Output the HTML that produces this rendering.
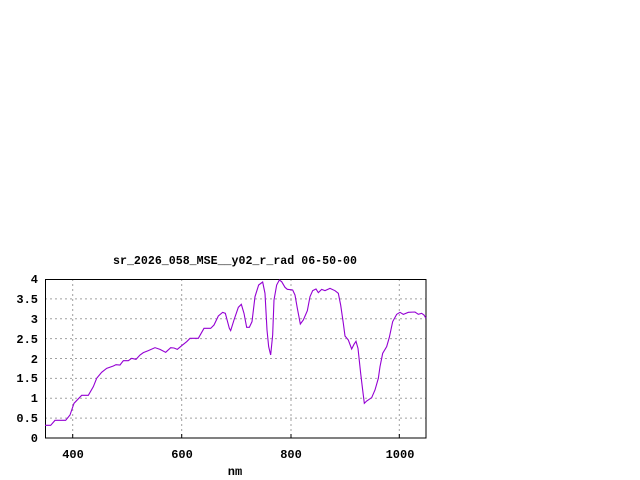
<!DOCTYPE html>
<html><head><meta charset="utf-8"><style>body{margin:0;background:#fff}svg{display:block}text{font-family:"Liberation Mono",monospace;font-size:12px;font-weight:bold;fill:#000}</style></head>
<body><svg width="640" height="480" viewBox="0 0 640 480">
<rect width="640" height="480" fill="#fff"/>
<g stroke="#a0a0a0" stroke-width="1" stroke-dasharray="2,3">
<line x1="72.7" y1="279" x2="72.7" y2="438"/><line x1="181.7" y1="279" x2="181.7" y2="438"/><line x1="291" y1="279" x2="291" y2="438"/><line x1="399.3" y1="279" x2="399.3" y2="438"/>
<line x1="45" y1="418.1" x2="426" y2="418.1"/><line x1="45" y1="398.2" x2="426" y2="398.2"/><line x1="45" y1="378.4" x2="426" y2="378.4"/><line x1="45" y1="358.5" x2="426" y2="358.5"/><line x1="45" y1="338.6" x2="426" y2="338.6"/><line x1="45" y1="318.8" x2="426" y2="318.8"/><line x1="45" y1="298.9" x2="426" y2="298.9"/>
</g>
<rect x="45.5" y="279.5" width="380.5" height="158.5" fill="none" stroke="#000" stroke-width="1"/>
<g stroke="#000"><line x1="72.7" y1="438" x2="72.7" y2="434"/><line x1="181.7" y1="438" x2="181.7" y2="434"/><line x1="291" y1="438" x2="291" y2="434"/><line x1="399.3" y1="438" x2="399.3" y2="434"/></g>
<g transform="translate(0,250) scale(0.33333)">
<polyline fill="none" stroke="#9400d3" stroke-width="3.3" points="135,526 152,526 165,511 197,511 210,495 222,460 245,436 265,436 280,410 290,385 305,367 320,355 340,348 348,344 360,345 370,332 385,332 395,325 408,328 420,315 430,308 445,302 465,293 480,298 497,307 512,293 522,294 532,298 545,287 560,275 570,265 595,265 612,235 632,235 642,225 655,198 668,187 676,190 688,235 692,242 702,210 715,172 724,163 732,190 740,232 748,232 756,215 765,140 776,105 788,96 795,130 801,240 806,290 812,315 818,255 822,150 830,105 838,90 845,95 855,112 862,118 878,120 885,135 892,175 901,222 910,210 922,182 930,140 938,122 948,117 955,128 965,118 975,122 990,115 1005,122 1015,130 1022,165 1030,220 1035,258 1045,270 1055,297 1062,283 1068,274 1074,295 1082,370 1088,420 1093,460 1100,453 1115,443 1125,420 1135,385 1140,350 1148,310 1160,290 1168,262 1178,215 1190,193 1200,187 1210,193 1225,187 1245,186 1255,193 1265,190 1272,195 1278,205"/>
</g>
<text x="235" y="264" text-anchor="middle" textLength="244" lengthAdjust="spacingAndGlyphs">sr_2026_058_MSE__y02_r_rad 06-50-00</text>
<g text-anchor="end">
<text x="38" y="442">0</text><text x="38" y="422">0.5</text><text x="38" y="402">1</text><text x="38" y="382">1.5</text><text x="38" y="363">2</text><text x="38" y="343">2.5</text><text x="38" y="323">3</text><text x="38" y="303">3.5</text><text x="38" y="283">4</text>
</g>
<g text-anchor="middle">
<text x="73" y="458">400</text><text x="182" y="458">600</text><text x="291" y="458">800</text><text x="400" y="458">1000</text>
<text x="235" y="475">nm</text>
</g>
</svg></body></html>
